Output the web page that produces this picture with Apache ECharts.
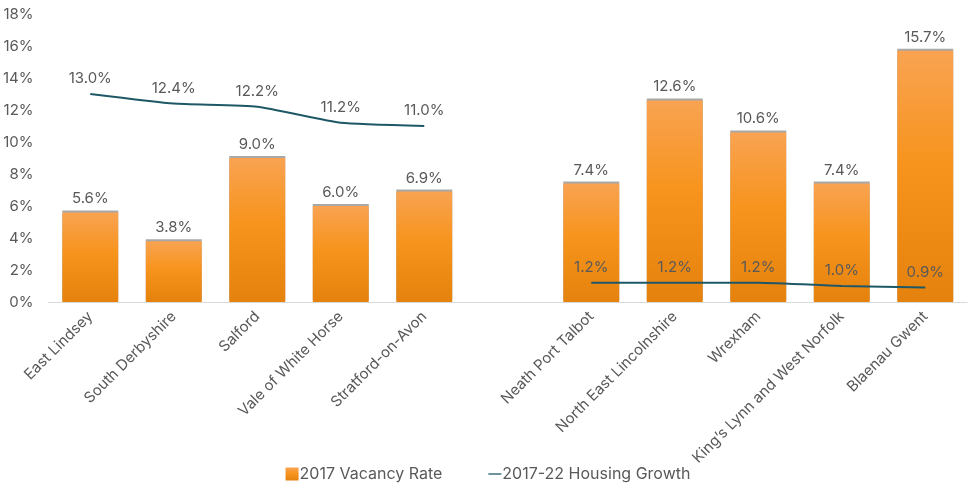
<!DOCTYPE html>
<html><head><meta charset="utf-8">
<script src="https://cdn.jsdelivr.net/npm/echarts@6/dist/echarts.min.js"></script>
<style>html,body{margin:0;padding:0;background:#fff}#c{width:976px;height:495px}</style>
</head><body><div id="c"></div>
<script>
const categories = ['East Lindsey','South Derbyshire','Salford','Vale of White Horse','Stratford-on-Avon','','Neath Port Talbot','North East Lincolnshire','Wrexham',"King\u2019s Lynn and West Norfolk",'Blaenau Gwent'];
const vacancyRate = [5.6, 3.8, 9.0, 6.0, 6.9, null, 7.4, 12.6, 10.6, 7.4, 15.7];
const housingGrowth = [13.0, 12.4, 12.2, 11.2, 11.0, null, 1.2, 1.2, 1.2, 1.0, 0.9];
const seriesNames = ['2017 Vacancy Rate', '2017-22 Housing Growth'];

const font = 'Inter, "Noto Sans", sans-serif';
const txt = '#595959';
const chart = echarts.init(document.getElementById('c'));
chart.setOption({
  animation: false,
  grid: {left: 48, right: 9, top: 14, bottom: 193},
  legend: {
    bottom: 8, left: 'center', itemGap: 46, itemWidth: 13, itemHeight: 13,
    textStyle: {color: txt, fontSize: 16, fontFamily: font, padding: [0,0,0,-4]},
    data: [
      {name: seriesNames[0], icon: 'rect'},
      {name: seriesNames[1], icon: 'path://M0,5 L20,5 L20,7 L0,7 Z', itemStyle: {color: '#1E5866'}}
    ]
  },
  xAxis: {
    type: 'category', data: categories,
    axisLine: {lineStyle: {color: '#D9D9D9', width: 1}},
    axisTick: {show: false},
    axisLabel: {rotate: 45, interval: 0, color: txt, fontSize: 15, fontFamily: font, margin: 12}
  },
  yAxis: {
    type: 'value', min: 0, max: 18, interval: 2,
    splitLine: {show: false},
    axisLine: {show: false}, axisTick: {show: false},
    axisLabel: {formatter: '{value}%', color: txt, fontSize: 15, fontFamily: font, margin: 15}
  },
  series: [
    {
      name: seriesNames[0], type: 'bar', data: vacancyRate, barCategoryGap: '33%',
      itemStyle: {
        color: new echarts.graphic.LinearGradient(0,0,0,1,[
          {offset: 0, color: '#F9A352'},
          {offset: 0.45, color: '#F7941D'},
          {offset: 1, color: '#E5820D'}
        ]),
        shadowColor: '#A8A8A8', shadowBlur: 0, shadowOffsetY: -2
      },
      label: {show: true, position: 'top', distance: 6, formatter: p => p.value.toFixed(1) + '%', color: txt, fontSize: 15, fontFamily: font}
    },
    {
      name: seriesNames[1], type: 'line', data: housingGrowth, smooth: 0.15,
      symbol: 'circle', symbolSize: 0.1, showSymbol: true, connectNulls: false,
      lineStyle: {color: '#1E5866', width: 2},
      itemStyle: {color: '#1E5866'},
      labelLayout: {hideOverlap: false},
      label: {show: true, position: 'top', distance: 8, formatter: p => p.value.toFixed(1) + '%', color: txt, fontSize: 15, fontFamily: font}
    }
  ]
});
</script></body></html>
